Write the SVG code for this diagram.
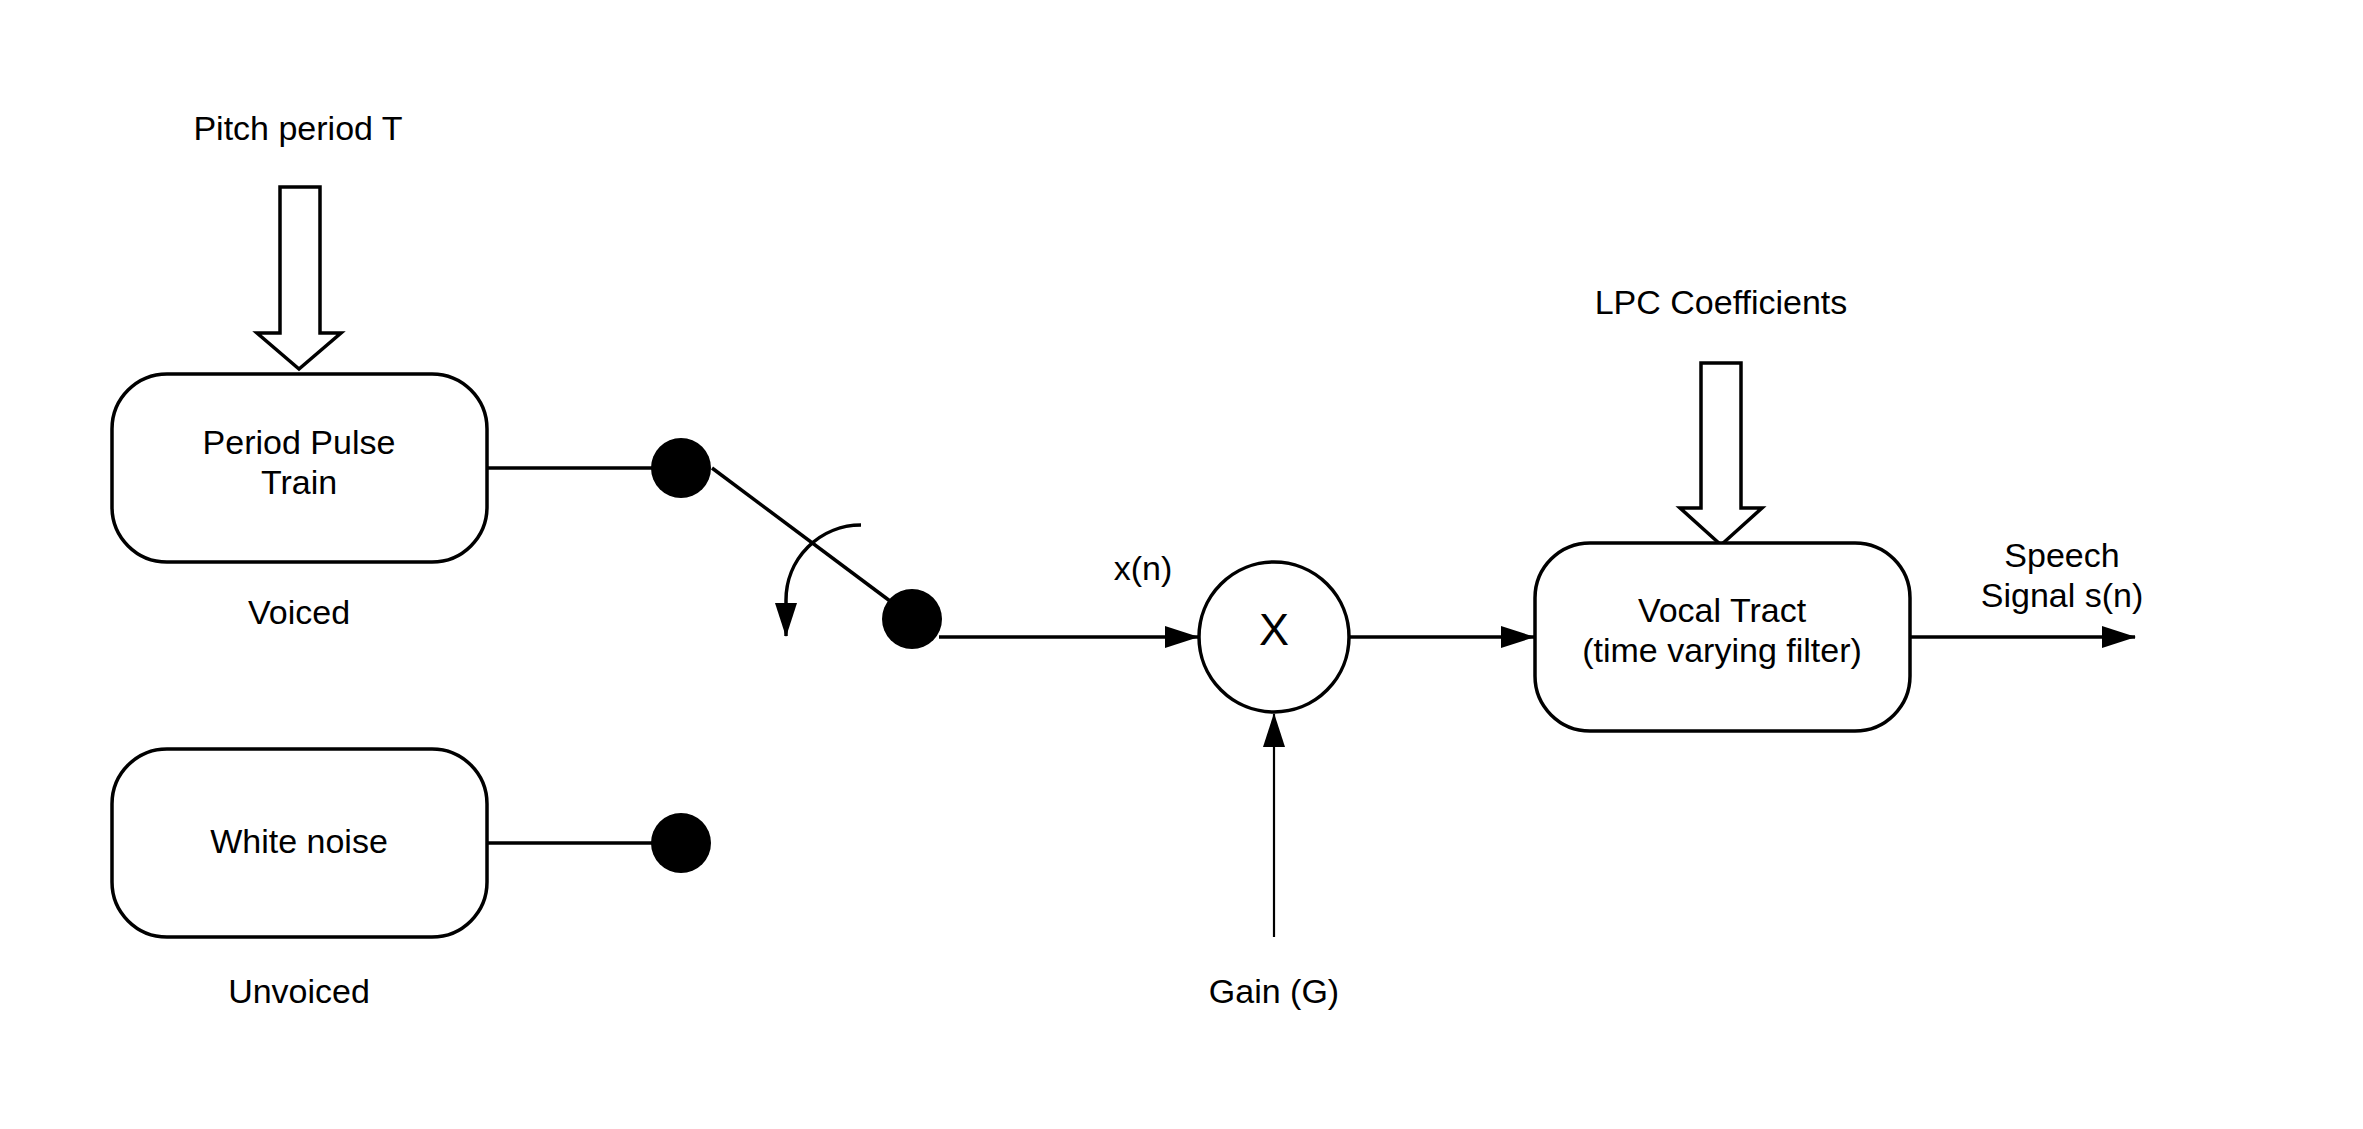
<svg xmlns="http://www.w3.org/2000/svg" width="2363" height="1129" viewBox="0 0 2363 1129">
<style>
.box{fill:#fff;stroke:#000;stroke-width:3.5}
.fat{fill:#fff;stroke:#000;stroke-width:3.5;stroke-linejoin:miter}
.ln{fill:none;stroke:#000;stroke-width:3.5}
.thin{fill:none;stroke:#000;stroke-width:2.2}
.dot{fill:#000}
text{font-family:"Liberation Sans",Arial,sans-serif;font-size:34px;fill:#000;text-anchor:middle}
</style>
<defs>
<marker id="ah" markerUnits="userSpaceOnUse" markerWidth="34" markerHeight="22" refX="33" refY="11" orient="auto" viewBox="0 0 34 22">
<path d="M0,0 L34,11 L0,22 Z" fill="#000"/>
</marker>
</defs>
<rect width="2363" height="1129" fill="#fff"/>
<g id="pitch-label"><text x="298" y="140">Pitch period T</text></g>
<g id="pitch-arrow"><path class="fat" d="M280,187 L320,187 L320,333 L341,333 L299,369 L257,333 L280,333 Z"/></g>
<g id="pulse-train">
<rect class="box" x="112" y="374" width="375" height="188" rx="55" ry="55"/>
<text x="299" y="454">Period Pulse</text>
<text x="299" y="494">Train</text>
</g>
<g id="voiced-label"><text x="299" y="624">Voiced</text></g>
<g id="white-noise">
<rect class="box" x="112" y="749" width="375" height="188" rx="55" ry="55"/>
<text x="299" y="853">White noise</text>
</g>
<g id="unvoiced-label"><text x="299" y="1003">Unvoiced</text></g>
<g id="dot1"><circle class="dot" cx="681" cy="468" r="30"/></g>
<g id="dot2"><circle class="dot" cx="912" cy="619" r="30"/></g>
<g id="dot3"><circle class="dot" cx="681" cy="843" r="30"/></g>
<g id="multiplier">
<circle class="box" cx="1274" cy="637" r="75"/>
<text x="1274" y="645" style="font-size:45px">X</text>
</g>
<g id="xn-label"><text x="1143" y="580">x(n)</text></g>
<g id="lpc-label"><text x="1721" y="314">LPC Coefficients</text></g>
<g id="lpc-arrow"><path class="fat" d="M1701,363 L1741,363 L1741,508 L1762,508 L1721,545 L1680,508 L1701,508 Z"/></g>
<g id="vocal-tract">
<rect class="box" x="1535" y="543" width="375" height="188" rx="55" ry="55"/>
<text x="1722" y="622">Vocal Tract</text>
<text x="1722" y="662">(time varying filter)</text>
</g>
<g id="speech-label">
<text x="2062" y="567">Speech</text>
<text x="2062" y="607">Signal s(n)</text>
</g>
<g id="gain-label"><text x="1274" y="1003">Gain (G)</text></g>
<g id="connectors">
<line class="ln" x1="487" y1="468" x2="660" y2="468"/>
<line class="ln" x1="487" y1="843" x2="660" y2="843"/>
<line class="ln" x1="712" y1="468" x2="890" y2="601"/>
<path class="ln" d="M861,525 A75,75 0 0 0 786,600 L786,636" marker-end="url(#ah)"/>
<line class="ln" x1="939" y1="637" x2="1198" y2="637" marker-end="url(#ah)"/>
<line class="ln" x1="1349" y1="637" x2="1534" y2="637" marker-end="url(#ah)"/>
<line class="ln" x1="1910" y1="637" x2="2135" y2="637" marker-end="url(#ah)"/>
<line class="thin" x1="1274" y1="937" x2="1274" y2="714" marker-end="url(#ah)"/>
</g>
</svg>
